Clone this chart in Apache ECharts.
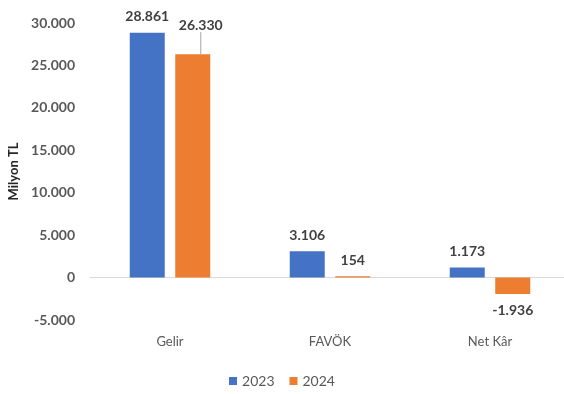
<!DOCTYPE html>
<html>
<head>
<meta charset="utf-8">
<script src="https://cdn.jsdelivr.net/npm/echarts@6/dist/echarts.min.js"></script>
<style>
  html, body { margin: 0; padding: 0; background: #fff; }
  #chart { width: 564px; height: 394px; }
</style>
</head>
<body>
<div id="chart"></div>
<script>
// kategoriler ve seriler
const categories = ['Gelir', 'FAVÖK', 'Net Kâr'];
const years = ['2023', '2024'];
const values2023 = [28861, 3106, 1173];
const values2024 = [26330, 154, -1936];
const yTicks = { min: -5000, max: 30000, interval: 5000 };

// Türkçe binlik ayırıcı (nokta)
function fmt(v) {
    const s = String(Math.abs(v)).replace(/\B(?=(\d{3})+(?!\d))/g, '.');
    return (v < 0 ? '-' : '') + s;
}

const FONT = 'Lato, "Open Sans", sans-serif';

const labelStyle = {
    show: true,
    position: 'top',
    distance: 9,
    fontFamily: FONT,
    fontSize: 14,
    fontWeight: 'bold',
    color: '#404040',
    formatter: (p) => fmt(p.value)
};

function toData(arr, withLine) {
    return arr.map((v, i) => {
        let item = { value: v };
        // negatif değerlerde etiket çubuğun altında
        if (v < 0) item.label = { position: 'bottom' };
        item.labelLine = { show: withLine && i === 0 };
        return item;
    });
}

let options = {
    animation: false,
    grid: {
        left: 90,
        width: 480,
        top: 23,
        bottom: 74,
        outerBoundsMode: 'none'
    },
    legend: {
        bottom: 1,
        left: 'center',
        itemWidth: 8,
        itemHeight: 8,
        itemGap: 15,
        icon: 'rect',
        textStyle: { fontFamily: FONT, fontSize: 14, color: '#595959' },
        data: years
    },
    xAxis: {
        type: 'category',
        data: categories,
        axisLine: { show: true, onZero: true, lineStyle: { color: '#d9d9d9', width: 1 } },
        axisTick: { show: false },
        axisLabel: { margin: 15, fontFamily: FONT, fontSize: 13, color: '#595959' }
    },
    yAxis: {
        type: 'value',
        min: yTicks.min,
        max: yTicks.max,
        interval: yTicks.interval,
        name: 'Milyon TL',
        nameLocation: 'middle',
        nameGap: 67,
        nameTextStyle: { fontFamily: FONT, fontSize: 13, fontWeight: 'bold', color: '#262626' },
        axisLine: { show: false },
        axisTick: { show: false },
        splitLine: { show: false },
        axisLabel: {
            margin: 15,
            fontFamily: FONT,
            fontSize: 14,
            fontWeight: 'bold',
            color: '#595959',
            formatter: (v) => fmt(v)
        }
    },
    series: [
        {
            name: years[0],
            type: 'bar',
            barWidth: 35,
            barGap: '30%',
            itemStyle: { color: '#4472C4' },
            label: labelStyle,
            data: toData(values2023, false)
        },
        {
            name: years[1],
            type: 'bar',
            barWidth: 35,
            itemStyle: { color: '#ED7D31' },
            label: labelStyle,
            labelLine: { show: false, lineStyle: { color: '#a6a6a6', width: 1 } },
            // 26.330 etiketi sağ yukarı kaydırılmış
            labelLayout: (p) => p.dataIndex === 0 ? { dx: 8, dy: -13 } : {},
            data: toData(values2024, true)
        }
    ]
};

let chart = echarts.init(document.getElementById('chart'));
chart.setOption(options);
</script>
</body>
</html>
